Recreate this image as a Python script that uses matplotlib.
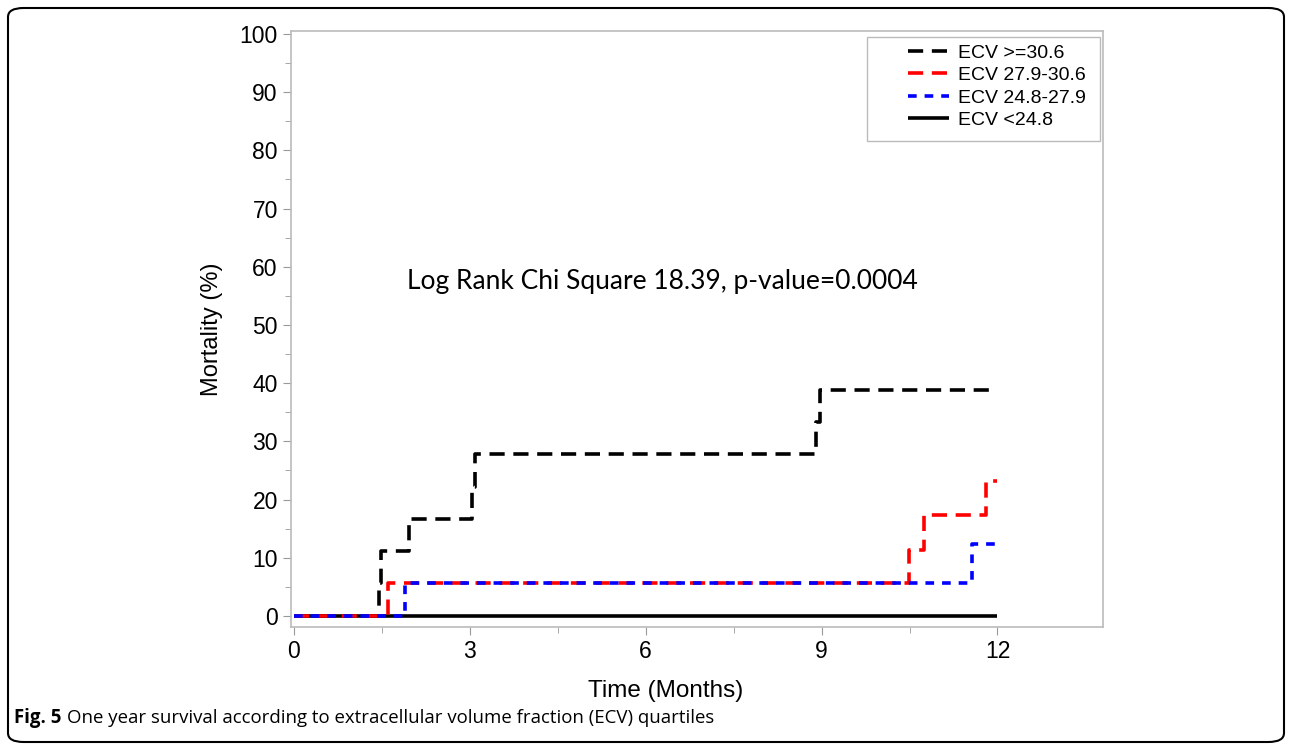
import matplotlib
matplotlib.use("Agg")
import matplotlib.pyplot as plt
from matplotlib.patches import FancyBboxPatch, Rectangle

# step data (time in months, mortality %)
t_q4 = [0, 1.45, 1.49, 1.97, 3.04, 3.09, 8.91, 8.98, 12.0]
m_q4 = [0, 5.6, 11.1, 16.7, 22.2, 27.8, 33.3, 38.9, 38.9]
t_q3 = [0, 1.61, 10.49, 10.74, 11.8, 12.0]
m_q3 = [0, 5.6, 11.4, 17.4, 23.2, 23.2]
t_q2 = [0, 1.9, 11.56, 12.0]
m_q2 = [0, 5.6, 12.3, 12.3]
t_q1 = [0, 12.0]
m_q1 = [0, 0]

labels = ["ECV >=30.6", "ECV 27.9-30.6", "ECV 24.8-27.9", "ECV <24.8"]
x_ticks = [0, 3, 6, 9, 12]
y_ticks = list(range(0, 101, 10))

plt.rcParams['font.family'] = ['Liberation Sans', 'DejaVu Sans']

W, H = 1292, 750
fig = plt.figure(figsize=(W / 100, H / 100), dpi=100)
ax = fig.add_axes([291/W, 1 - 627/H, (1103-291)/W, (627-31)/H])

lw = 2.6
l1, = ax.step(t_q1, m_q1, where='post', color='black', lw=lw, solid_capstyle='butt')
l4, = ax.step(t_q4, m_q4, where='post', color='black', lw=lw, dashes=(4.2, 2.4))
l3, = ax.step(t_q3, m_q3, where='post', color='#ff0000', lw=lw, dashes=(4.2, 2.4))
l2, = ax.step(t_q2, m_q2, where='post', color='#0000ff', lw=lw, dashes=(2.4, 2.2))

ax.set_xlim(-0.05, 13.8)
ax.set_ylim(-1.9, 100.5)
ax.set_xticks(x_ticks)
ax.set_xticks([1.5, 4.5, 7.5, 10.5], minor=True)
ax.set_yticks(y_ticks)
ax.set_yticks(list(range(5, 100, 10)), minor=True)
ax.tick_params(axis='both', which='major', labelsize=16.5, color='#999999', length=6)
ax.tick_params(axis='both', which='minor', color='#999999', length=4)
for s in ax.spines.values():
    s.set_color('#bbbbbb')
    s.set_linewidth(1.2)

ax.set_ylabel("Mortality (%)", fontsize=17, labelpad=12)
fig.text(666/W, 1 - 691/H, "Time (Months)", fontsize=17.5, ha='center', va='center')

ax.text(1.93, 57.5, "Log Rank Chi Square 18.39, p-value=0.0004", fontsize=19,
        family='Lato', va='center', ha='left')

# legend without its own frame, boxed by hand
leg = fig.legend([l4, l3, l2, l1], labels, loc='upper left',
                 bbox_to_anchor=(908/W, 1 - 44/H), fontsize=14,
                 frameon=False, handlelength=2.1, borderpad=0, borderaxespad=0,
                 labelspacing=0.25, handletextpad=0.45)
fig.patches.append(Rectangle((867/W, 1 - 141/H), (1100-867)/W, (141-37)/H,
                             transform=fig.transFigure, fill=False,
                             edgecolor='#bbbbbb', lw=1.0))

# caption
fig.text(14/W, 1 - 718/H, "Fig. 5", fontsize=13.4, weight='bold', family='Open Sans',
         va='center', ha='left')
fig.text(67/W, 1 - 718/H, "One year survival according to extracellular volume fraction (ECV) quartiles",
         fontsize=13.4, family='Open Sans', va='center', ha='left')

frame = FancyBboxPatch((8/W, 8/H), 1276/W, 734/H,
                       boxstyle="round,pad=0,rounding_size=0.012",
                       transform=fig.transFigure, fill=False, edgecolor='black', lw=1.5)
fig.patches.append(frame)

fig.savefig("out.png", dpi=100)
